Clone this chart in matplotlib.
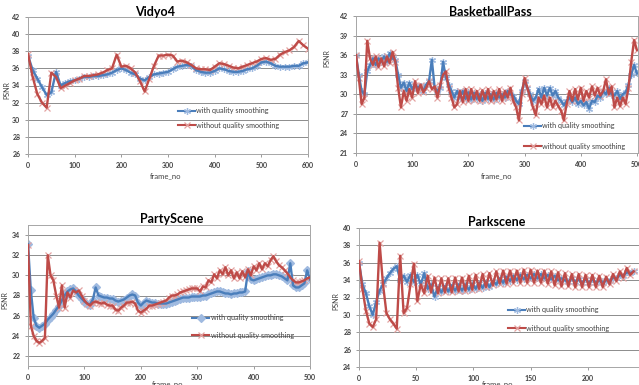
import matplotlib
matplotlib.use("Agg")
import matplotlib.pyplot as plt
from matplotlib.lines import Line2D
from matplotlib.ticker import MultipleLocator

plt.rcParams['font.family'] = ['Lato', 'DejaVu Sans']

# ---- PSNR per frame (with / without quality smoothing) ----
vidyo_frames = list(range(0, 601, 10))
vidyo_with = [37.5, 35.8, 34.8, 33.8, 32.9, 33.2, 35.6, 34.0, 34.3, 34.5,
              34.6, 34.8, 35.0, 35.0, 35.1, 35.1, 35.2, 35.3, 35.5, 35.8,
              36.0, 35.8, 35.5, 35.3, 34.8, 34.6, 35.0, 35.3, 35.4, 35.5,
              35.6, 35.9, 36.2, 36.3, 36.4, 36.3, 35.8, 35.6, 35.5, 35.5,
              35.7, 36.0, 35.9, 35.7, 35.6, 35.6, 35.7, 35.9, 36.0, 36.3,
              36.7, 36.8, 36.6, 36.3, 36.2, 36.2, 36.2, 36.3, 36.3, 36.6,
              36.7]
vidyo_without = [37.7, 35.0, 33.0, 32.0, 31.4, 35.5, 35.0, 33.7, 34.0, 34.3,
                 34.6, 34.8, 35.1, 35.1, 35.2, 35.3, 35.5, 35.8, 36.0, 37.6,
                 36.2, 36.3, 36.0, 35.5, 34.5, 33.3, 34.8, 36.3, 37.5, 37.5,
                 37.6, 37.5, 36.8, 36.9, 36.7, 36.4, 36.0, 35.9, 35.9, 35.8,
                 36.2, 36.6, 36.5, 36.3, 36.1, 36.0, 36.2, 36.4, 36.6, 36.8,
                 37.1, 37.2, 37.0, 37.1, 37.6, 37.9, 38.1, 38.5, 39.2, 38.7,
                 38.3]

bball_frames = list(range(0, 501, 5))
bball_with = [36.0, 33.0, 30.5, 30.0, 33.5, 34.5, 35.5, 34.5, 35.5, 35.0,
              35.8, 35.0, 36.3, 35.5, 35.2, 33.0, 31.0, 31.8, 30.5, 31.8,
              30.8, 31.5, 31.0, 31.3, 30.5, 31.5, 32.0, 35.3, 31.0, 30.5,
              31.0, 35.0, 32.5, 31.5, 30.5, 29.5, 30.5, 29.5, 30.5, 29.3,
              30.3, 29.2, 30.2, 29.3, 30.0, 29.0, 30.2, 29.3, 30.0, 29.2,
              30.2, 29.5, 30.0, 29.5, 30.5, 30.0, 29.8, 29.0, 28.5, 30.5,
              32.0, 31.0, 30.0, 29.0, 29.5, 30.8, 29.5, 31.0, 29.8, 31.0,
              29.8, 30.5, 29.5, 29.0, 28.3, 29.0, 29.5, 28.8, 29.5, 28.5,
              29.0, 28.3, 28.8, 27.8, 29.0, 28.8, 29.8, 29.5, 30.5, 30.0,
              31.0, 30.0, 29.8, 30.5, 29.3, 30.0, 30.3, 31.5, 33.0, 34.5,
              33.2]
bball_without = [36.0, 32.5, 28.5, 29.5, 38.2, 35.5, 34.5, 35.8, 34.2, 35.5,
                 34.3, 35.8, 34.8, 36.5, 35.0, 31.0, 28.0, 30.5, 29.0, 30.8,
                 29.5, 32.0, 30.2, 31.5, 30.3, 31.0, 32.0, 30.8, 31.2, 29.5,
                 31.5, 33.0, 33.5, 31.0, 29.5, 28.0, 28.5, 30.5, 28.8, 30.8,
                 29.0, 30.8, 29.2, 30.5, 29.0, 30.6, 29.2, 30.8, 29.0, 30.5,
                 29.2, 30.8, 29.0, 30.5, 29.5, 31.0, 29.0, 28.0, 26.0, 30.0,
                 32.5, 31.0, 29.5, 28.0, 26.8, 29.5, 28.5, 29.8, 28.0, 29.5,
                 28.0, 29.0, 28.2, 27.5, 26.0, 28.5, 30.5, 29.0, 30.8, 29.2,
                 31.0, 29.0, 30.5, 29.5, 31.2, 29.8, 31.0, 29.8, 30.5, 32.3,
                 30.0, 31.2, 28.0, 29.5, 28.2, 29.5, 28.5, 31.0, 35.0, 38.3,
                 36.8]

party_frames = list(range(0, 501, 5))
party_with = [33.1, 28.5, 25.8, 25.0, 24.8, 25.0, 25.2, 25.6, 25.9, 26.2,
              26.6, 27.0, 27.5, 28.0, 28.4, 28.6, 28.7, 28.4, 28.0, 27.7,
              27.4, 27.2, 27.1, 27.6, 28.8, 28.0, 27.9, 27.8, 27.8, 27.7,
              27.7, 27.5, 27.4, 27.5, 27.6, 27.8, 28.0, 28.1, 28.0, 27.3,
              27.0, 27.3, 27.5, 27.4, 27.3, 27.3, 27.2, 27.2, 27.2, 27.2,
              27.3, 27.4, 27.5, 27.6, 27.7, 27.8, 27.8, 27.8, 27.9, 27.9,
              27.9, 27.9, 28.0, 28.0, 28.1, 28.2, 28.3, 28.4, 28.4, 28.3,
              28.2, 28.2, 28.1, 28.2, 28.2, 28.3, 28.3, 28.4, 30.4, 29.6,
              29.5, 29.6, 29.7, 29.8, 29.9, 30.0, 30.0, 30.1, 30.1, 30.0,
              29.9, 29.7, 29.5, 31.2, 29.0, 28.8, 28.8, 29.0, 29.2, 30.5,
              29.6]
party_without = [33.0, 25.0, 24.0, 23.5, 23.3, 23.5, 23.8, 32.0, 30.0, 29.5,
                 28.0, 26.8, 29.0, 26.8, 28.3, 27.8, 28.5, 28.3, 28.5, 28.0,
                 27.5, 27.2, 27.0, 27.3, 27.4, 27.3, 27.2, 27.3, 27.1, 27.0,
                 27.0, 26.6, 26.5, 26.8, 27.0, 27.3, 27.3, 27.4, 27.2, 26.5,
                 26.3, 26.5, 26.7, 27.0, 27.0, 27.1, 27.2, 27.3, 27.4, 27.5,
                 27.8, 28.0, 28.0, 28.1, 28.3, 28.4, 28.5, 28.6, 28.7, 28.7,
                 28.7, 28.4, 28.9, 28.8, 29.5, 29.3, 30.1, 29.7, 30.5, 30.1,
                 30.8, 30.0, 30.5, 29.7, 30.3, 29.7, 30.4, 29.8, 30.6, 30.0,
                 30.9, 30.5, 31.2, 30.6, 31.2, 30.9, 31.5, 31.9, 31.4, 31.0,
                 30.8, 30.5, 30.2, 29.8, 29.5, 29.3, 29.3, 29.4, 29.5, 29.7,
                 29.8]

park_frames = list(range(0, 241, 3))
park_with = [36.0, 33.5, 32.5, 31.0, 30.0, 31.5, 32.8, 33.5, 34.2, 34.8,
             35.3, 35.6, 34.0, 34.5, 33.8, 34.6, 33.8, 34.6, 33.5, 34.8,
             33.0, 33.5, 32.1, 33.2, 32.6, 33.3, 32.7, 33.4, 32.8, 33.5,
             32.8, 33.5, 32.9, 33.6, 33.0, 33.7, 33.1, 33.8, 33.2, 33.9,
             33.5, 34.2, 33.7, 34.4, 33.9, 34.5, 34.0, 34.6, 34.1, 34.6,
             34.2, 34.7, 34.2, 34.7, 34.2, 34.6, 34.1, 34.5, 34.0, 34.2,
             34.0, 33.8, 34.2, 33.8, 34.1, 33.7, 34.1, 33.7, 34.1, 33.7,
             34.0, 33.7, 34.0, 33.9, 34.3, 34.2, 34.6, 34.5, 34.9, 34.8,
             35.0]
park_without = [36.2, 33.0, 30.5, 29.0, 28.6, 29.5, 38.3, 33.5, 30.2, 29.5,
                29.0, 28.4, 36.8, 30.2, 30.8, 33.5, 35.9, 31.6, 33.5, 32.5,
                34.5, 32.6, 34.3, 32.5, 34.2, 32.6, 34.2, 32.6, 34.3, 32.7,
                34.3, 32.8, 34.5, 32.9, 34.6, 33.0, 34.7, 33.2, 34.8, 33.4,
                35.0, 33.6, 35.1, 33.6, 35.1, 33.7, 35.1, 33.7, 35.2, 33.7,
                35.2, 33.7, 35.1, 33.7, 35.1, 33.6, 35.0, 33.4, 34.9, 33.3,
                34.8, 33.3, 34.7, 33.2, 34.7, 33.2, 34.6, 33.2, 34.6, 33.2,
                34.5, 33.2, 34.4, 33.5, 34.7, 33.9, 35.0, 34.3, 35.4, 34.6,
                35.0]

BLUE, BLUE_LT = '#4a7ebb', '#9fbae0'
RED, RED_LT = '#be4b48', '#e3a3a1'
GRID = '#8c8c8c'
TXT = '#404040'
W, H = 639, 385

fig = plt.figure(figsize=(W / 100, H / 100), dpi=100)


def add_panel(left, right, top, bottom):
    return fig.add_axes([left / W, 1 - bottom / H, (right - left) / W, (bottom - top) / H])


def draw(ax, x, y, color, light, marker, ms):
    # light marker halo underneath, solid line on top
    ax.plot(x, y, ls='none', marker=marker, ms=ms, mec=light, mfc=light, mew=0.9, zorder=2)
    ax.plot(x, y, color=color, lw=1.7, zorder=3)
    return Line2D([], [], color=color, lw=1.5, marker=marker, ms=ms,
                  mec=light, mfc=light, mew=0.9)


def panel(ax, x, y_with, y_without, blue_marker, ylim, ystep, xlim, xstep,
          title, tpos, ypos, xpos, leg_pos, leg_space):
    h1 = draw(ax, x, y_with, BLUE, BLUE_LT, blue_marker, 5 if blue_marker != 'D' else 4)
    h2 = draw(ax, x, y_without, RED, RED_LT, 'x', 5)
    ax.set_ylim(*ylim)
    ax.set_xlim(*xlim)
    ax.yaxis.set_major_locator(MultipleLocator(ystep))
    ax.xaxis.set_major_locator(MultipleLocator(xstep))
    ax.grid(axis='y', color=GRID, lw=0.7)
    ax.set_axisbelow(True)
    for s in ax.spines.values():
        s.set_color('#a6a6a6')
        s.set_linewidth(0.7)
    ax.tick_params(direction='out', length=2, width=0.6, color=GRID,
                   labelsize=5, labelcolor=TXT, pad=3.5)
    for lab in ax.get_xticklabels() + ax.get_yticklabels():
        lab.set_fontweight('bold')
    ax.text(tpos[0], tpos[1], title, transform=ax.transAxes, ha='center',
            va='center', fontsize=9, fontweight='bold', color='black')
    ax.set_ylabel('PSNR', fontsize=5, color=TXT)
    ax.yaxis.set_label_coords(*ypos)
    ax.set_xlabel('frame_no', fontsize=5.5, color=TXT)
    ax.xaxis.set_label_coords(*xpos)
    leg = ax.legend([h1, h2], ['with quality smoothing', 'without quality smoothing'],
                    loc='center left', bbox_to_anchor=leg_pos, frameon=False,
                    fontsize=5.2, handlelength=2.4, handletextpad=0.15,
                    labelspacing=leg_space, borderpad=0, borderaxespad=0,
                    numpoints=1)
    for t in leg.get_texts():
        t.set_color(TXT)


ax1 = add_panel(28, 308, 17, 154)
panel(ax1, vidyo_frames, vidyo_with, vidyo_without, (6, 2, 0), (26, 42), 2, (0, 600), 100,
      'Vidyo4', (0.454, 1.036), (-0.064, 0.467), (0.49, -0.13), (0.536, 0.263), 1.0)

ax2 = add_panel(356, 638, 16, 153)
panel(ax2, bball_frames, bball_with, bball_without, (6, 2, 0), (21, 42), 3, (0, 502), 100,
      'BasketballPass', (0.475, 1.03), (-0.092, 0.69), (0.5, -0.139), (0.596, 0.124), 1.9)

ax3 = add_panel(28, 310, 225, 366)
panel(ax3, party_frames, party_with, party_without, 'D', (21, 35), 2, (0, 500), 100,
      'PartyScene', (0.51, 1.043), (-0.071, 0.468), (0.496, -0.098), (0.582, 0.280), 1.4)

ax4 = add_panel(359, 645, 228, 367)
panel(ax4, park_frames, park_with, park_without, (6, 2, 0), (24, 40), 2, (0, 250), 50,
      'Parkscene', (0.483, 1.043), (-0.07, 0.475), (0.483, -0.092), (0.521, 0.345), 1.6)

fig.savefig('out.png', dpi=100)
